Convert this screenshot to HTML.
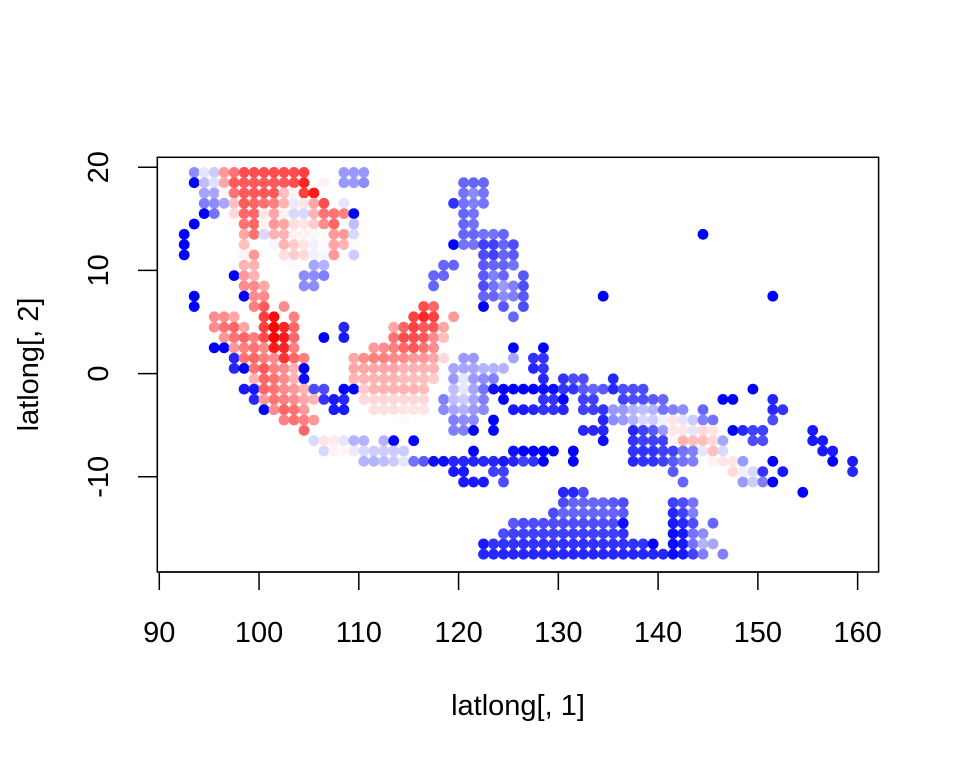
<!DOCTYPE html>
<html><head><meta charset="utf-8"><style>
html,body{margin:0;padding:0;background:#fff;}
svg{display:block;font-family:"Liberation Sans",Arial,sans-serif;}
</style></head><body>
<svg id="chart" width="960" height="768" viewBox="0 0 960 768" xmlns="http://www.w3.org/2000/svg">
<rect x="0" y="0" width="960" height="768" fill="#fff"/>
<g id="points"></g>
<rect x="157.3" y="157.3" width="721.3" height="414.7" fill="none" stroke="#000" stroke-width="1.5"/>
<g id="axes"></g>
<text x="518" y="715" font-size="29" text-anchor="middle">latlong[, 1]</text>
<text transform="translate(38,364.5) rotate(-90)" font-size="29" text-anchor="middle">latlong[, 2]</text>
</svg>
<script>
// Data: each segment = [latitude, starting longitude, values for consecutive 1-degree cells]
const xTicks = [90, 100, 110, 120, 130, 140, 150, 160];
const yTicks = [-10, 0, 10, 20];
const segments = [
[19.5,93.5,[-0.45,-0.1,-0.2,0.4,0.55,0.7,0.7,0.7,0.7,0.7,0.7,0.75]],[19.5,108.5,[-0.4,-0.4,-0.4]],
[18.5,93.5,[-1,-0.25,-0.12,0.35,0.65,0.65,0.65,0.65,0.65,0.65,0.7,0.85]],[18.5,106.5,[0.05]],[18.5,108.5,[-0.4,-0.4,-0.45]],[18.5,120.5,[-0.6,-0.6,-0.6]],
[17.5,94.5,[-0.35,-0.35,0.03,0.55,0.65,0.65,0.65,0.65,0.25,0.05,0.75,0.9]],[17.5,120.5,[-0.55,-0.45,-0.55]],
[16.5,94.5,[-0.5,-0.45,-0.35,0.25,0.65,0.6,0.55,0.5,0.3,-0.08,0.1,0.35,0.7]],[16.5,108.5,[-0.1]],[16.5,119.5,[-0.8,-0.55,-0.5,-0.55]],
[15.5,94.5,[-1,-0.55]],[15.5,97.5,[0.15,0.6,0.6,0.1,0.35,0.05,-0.15,-0.15,0.3,0.55,0.55,0.5,-1]],[15.5,120.5,[-0.6,-0.55]],
[14.5,93.5,[-1]],[14.5,97.5,[0.02,0.55,0.6,0.05,0.4,0.35,0.12,0.1,0.2,0.45,0.6]],[14.5,109.5,[-0.25]],[14.5,120.5,[-0.6,-0.55]],
[13.5,92.5,[-1]],[13.5,98.5,[0.35,0.55,-0.15,0.3,0.3,0.05,0.05,0.03,0.02,0.4,0.4,-0.15]],[13.5,120.5,[-0.6,-0.6,-0.55,-0.55,-0.6]],[13.5,144.5,[-1]],
[12.5,92.5,[-1]],[12.5,98.5,[0.25]],[12.5,101.5,[-0.03,0.3,0.2,0.1,-0.05,0.02,0.35,0.3,0.02]],[12.5,119.5,[-1,-0.55,-0.55,-0.75,-0.75,-0.6,-0.7]],
[11.5,92.5,[-1]],[11.5,98.5,[0.05,0.4]],[11.5,102.5,[0.12,0.2,0.15,-0.05,-0.03,0.4]],[11.5,109.5,[-0.2]],[11.5,122.5,[-0.7,-0.75,-0.6,-0.65]],
[10.5,98.5,[0.3,0.3]],[10.5,103.5,[-0.02]],[10.5,105.5,[-0.35,-0.3]],[10.5,118.5,[-0.6,-0.6]],[10.5,122.5,[-0.65,-0.6,-0.6,-0.55]],
[9.5,97.5,[-1,0.4,0.3]],[9.5,104.5,[-0.45,-0.45,-0.5]],[9.5,117.5,[-0.6,-0.6]],[9.5,122.5,[-0.65,-0.5,-0.6]],[9.5,126.5,[-0.65]],
[8.5,98.5,[0.45,0.45,0.35]],[8.5,104.5,[-0.45,-0.45]],[8.5,117.5,[-0.6]],[8.5,122.5,[-0.7,-0.55,-0.4,-0.5,-0.7]],
[7.5,93.5,[-1]],[7.5,98.5,[-1,0.45,0.45]],[7.5,122.5,[-0.6,-0.6,-0.45,-0.5,-0.65]],[7.5,134.5,[-1]],[7.5,151.5,[-1]],
[6.5,93.5,[-1]],[6.5,99.5,[0.5,0.65]],[6.5,102.5,[0.45]],[6.5,116.5,[0.7,0.6]],[6.5,122.5,[-1]],[6.5,124.5,[-0.65]],[6.5,126.5,[-0.7]],
[5.5,95.5,[0.45,0.45,0.35]],[5.5,100.5,[0.75,0.95]],[5.5,103.5,[0.5]],[5.5,115.5,[0.75,0.85,0.75]],[5.5,119.5,[0.4]],[5.5,125.5,[-0.6]],
[4.5,95.5,[0.45,0.55,0.6,0.35]],[4.5,100.5,[0.75,1,0.85,0.6]],[4.5,108.5,[-0.85]],[4.5,113.5,[0.35,0.6,0.75,0.65,0.65,0.35]],
[3.5,96.5,[0.4,0.55,0.6,0.5,0.7,1,0.9,0.6]],[3.5,106.5,[-1]],[3.5,108.5,[-0.9]],[3.5,113.5,[0.55,0.7,0.7,0.65,0.45,0.25]],
[2.5,95.5,[-1,-1,0.4,0.5,0.55,0.45,0.9,0.85,0.5]],[2.5,111.5,[0.4,0.45,0.5,0.6,0.65,0.55,0.45]],[2.5,125.5,[-1]],[2.5,128.5,[-1]],
[1.5,97.5,[-0.85,0.55,0.6,0.5,0.45,0.8,0.6,0.5]],[1.5,109.5,[0.35,0.45,0.5,0.5,0.45,0.45,0.4,0.4,0.35,0.15]],[1.5,120.5,[-0.4,-0.4]],[1.5,125.5,[-0.35]],[1.5,127.5,[-0.8,-0.8]],
[0.5,97.5,[-0.85,-1,0.55,0.65,0.5,0.45,0.3,-1]],[0.5,109.5,[0.35,0.35,0.35,0.35,0.35,0.3,0.3,0.3,0.3]],[0.5,119.5,[-0.35,-0.35,-0.35,-0.3,-0.3,-0.3]],[0.5,127.5,[-0.85,-0.8]],
[-0.5,99.5,[0.3,0.6,0.55,0.45,0.3,-0.95]],[-0.5,109.5,[0.3,0.3,0.3,0.3,0.3,0.25,0.25,0.25,0.2]],[-0.5,119.5,[-0.4,-0.1,-0.4,-0.45,-0.5]],[-0.5,128.5,[-0.85]],[-0.5,130.5,[-0.8,-0.7,-0.7]],[-0.5,135.5,[-0.85]],
[-1.5,98.5,[-0.9,-0.9,0.6,0.55,0.45,0.4,0.3,-0.7,-0.7]],[-1.5,108.5,[-1,-1,0.2,0.3,0.3,0.3,0.3,0.3,0.25]],[-1.5,119.5,[-0.25,-0.1,-0.35,-0.55,-0.95,-1,-1,-1,-1,-0.95,-0.95,-0.8,-0.8,-0.65,-0.6,-0.65,-0.85,-0.7,-0.7,-0.7]],[-1.5,149.5,[-1]],
[-2.5,99.5,[-0.85,0.4,0.55,0.5,0.45,0.35,0.3,-0.8,-0.9,-0.85]],[-2.5,110.5,[0.15,0.15,0.15,0.15,0.15,0.15,0.15]],[-2.5,118.5,[-0.5,-0.25,-0.2,-0.35,-0.5]],[-2.5,124.5,[-1]],[-2.5,128.5,[-0.8,-0.8,-1]],[-2.5,132.5,[-0.75,-0.75]],[-2.5,136.5,[-0.75,-0.7,-0.7,-0.65,-0.6]],[-2.5,146.5,[-1,-1]],[-2.5,151.5,[-0.85]],
[-3.5,100.5,[-1,0.45,0.6,0.55,0.4]],[-3.5,107.5,[-0.9,-0.9]],[-3.5,111.5,[0.12,0.12,0.12,0.1,0.1,0.1]],[-3.5,118.5,[-0.45,-0.35,-0.3,-0.4,-0.45]],[-3.5,125.5,[-0.9,-0.9,-0.85,-0.8,-0.8,-0.85]],[-3.5,132.5,[-0.75,-0.75,-0.8,-0.4,-0.4,-0.3,-0.25,-0.3,-0.55,-0.5,-0.45]],[-3.5,144.5,[-0.6]],[-3.5,151.5,[-0.85,-0.8]],
[-4.5,102.5,[0.5,0.55,0.5,0.4]],[-4.5,114.5,[0.02]],[-4.5,119.5,[-0.5,-0.45,-0.45]],[-4.5,123.5,[-1]],[-4.5,134.5,[-0.85,-0.45,-0.4,-0.3,-0.15,-0.2,-0.05,0.1,-0.1,-0.2,-0.5,-0.55]],[-4.5,151.5,[-0.7]],
[-5.5,104.5,[0.6]],[-5.5,119.5,[-0.5,-0.5,-1]],[-5.5,123.5,[-1]],[-5.5,132.5,[-0.85,-0.85,-0.85]],[-5.5,137.5,[-0.85,-0.75,-0.65,-0.4,0.1,0.1,-0.1,0.15,0.1]],[-5.5,147.5,[-1,-0.85,-0.75,-0.75]],[-5.5,155.5,[-0.9]],
[-6.5,105.5,[-0.15,0.1,0.08,-0.1,-0.3,-0.3]],[-6.5,112.5,[-0.3,-1]],[-6.5,115.5,[-1]],[-6.5,134.5,[-0.95]],[-6.5,137.5,[-0.8,-0.75,-0.75,-0.75,0.03,0.3,0.25,0.25,0.15,-0.35]],[-6.5,149.5,[-0.7,-0.7]],[-6.5,155.5,[-0.9,-0.9]],
[-7.5,106.5,[-0.15,0.05,0.03,-0.08,-0.15,-0.2,-0.2,-0.2,-0.2]],[-7.5,121.5,[-1]],[-7.5,125.5,[-0.95,-1,-1,-1,-1]],[-7.5,131.5,[-1]],[-7.5,137.5,[-0.8,-0.8,-0.8,-0.75,-0.75,-0.55,-0.5,-0.1,0.25,-0.15]],[-7.5,156.5,[-0.9,-0.9]],
[-8.5,110.5,[-0.3,-0.3,-0.25,-0.2,-0.1,-0.55,-0.65,-0.95,-0.95,-0.85,-0.85,-0.85,-0.85,-0.85,-0.9,-0.85,-0.75,-0.8,-1]],[-8.5,131.5,[-1]],[-8.5,137.5,[-0.85,-0.8,-0.8,-0.75,-0.65,-0.55,-0.5]],[-8.5,145.5,[0.05,0.1,0.1,-0.4]],[-8.5,151.5,[-1]],[-8.5,157.5,[-1]],[-8.5,159.5,[-0.9]],
[-9.5,119.5,[-0.9,-0.9]],[-9.5,123.5,[-0.75,-0.75]],[-9.5,141.5,[-0.65]],[-9.5,147.5,[0.15,-0.05,-0.15,-0.8]],[-9.5,152.5,[-0.9]],[-9.5,159.5,[-0.85]],
[-10.5,120.5,[-0.9,-0.9,-0.9]],[-10.5,124.5,[-0.7]],[-10.5,142.5,[-0.6]],[-10.5,148.5,[-0.4,-0.2,-0.5,-1]],
[-11.5,130.5,[-0.85,-0.85,-0.7]],[-11.5,154.5,[-1]],
[-12.5,130.5,[-0.7,-0.6,-0.6,-0.6,-0.6,-0.65,-0.7]],[-12.5,141.5,[-0.75,-0.7,-0.55]],
[-13.5,129.5,[-0.7,-0.6,-0.6,-0.6,-0.6,-0.6,-0.6,-0.65]],[-13.5,141.5,[-0.85,-0.75,-0.5]],
[-14.5,125.5,[-0.65,-0.7,-0.7,-0.7,-0.7,-0.7,-0.7,-0.7,-0.7,-0.7,-0.7,-0.95]],[-14.5,141.5,[-0.9,-0.85,-0.7]],[-14.5,145.5,[-0.6]],
[-15.5,124.5,[-0.7,-0.75,-0.75,-0.75,-0.75,-0.75,-0.75,-0.75,-0.75,-0.75,-0.75,-0.75,-0.8]],[-15.5,141.5,[-0.95,-0.9,-0.55,-0.45]],
[-16.5,122.5,[-0.9,-0.8,-0.8,-0.8,-0.8,-0.8,-0.8,-0.8,-0.8,-0.8,-0.8,-0.8,-0.8,-0.8,-0.8,-0.8,-0.8,-1]],[-16.5,141.5,[-0.95,-0.9,-0.55,-0.3,-0.35]],
[-17.5,122.5,[-0.85,-0.85,-0.85,-0.85,-0.85,-0.85,-0.85,-0.85,-0.85,-0.85,-0.85,-0.85,-0.85,-0.85,-0.85,-0.85,-0.85,-0.85,-0.85,-0.95,-0.9,-0.75,-0.5]],[-17.5,146.5,[-0.5]]
];

const NS = "http://www.w3.org/2000/svg";
function xScale(lon){ return 159.3 + (lon - 90) * 9.976; }
function yScale(lat){ return 167.2 + (20 - lat) * 10.32; }
function colorOf(v){
  v = Math.max(-1, Math.min(1, v));
  if (v < 0){ const c = Math.round(255 * (1 + v)); return "rgb(" + c + "," + c + ",255)"; }
  const c = Math.round(255 * (1 - v)); return "rgb(255," + c + "," + c + ")";
}
const gp = document.getElementById("points");
segments.forEach(function(seg){
  const lat = seg[0], lon0 = seg[1], vals = seg[2];
  vals.forEach(function(v, i){
    const c = document.createElementNS(NS, "circle");
    c.setAttribute("cx", xScale(lon0 + i).toFixed(1));
    c.setAttribute("cy", yScale(lat).toFixed(1));
    c.setAttribute("r", "5.4");
    c.setAttribute("fill", colorOf(v));
    
    
    gp.appendChild(c);
  });
});
const ga = document.getElementById("axes");
function line(x1,y1,x2,y2){
  const l = document.createElementNS(NS, "line");
  l.setAttribute("x1",x1); l.setAttribute("y1",y1); l.setAttribute("x2",x2); l.setAttribute("y2",y2);
  l.setAttribute("stroke","#000"); l.setAttribute("stroke-width","1.5");
  return l;
}
const xl = line(xScale(xTicks[0]),572,xScale(xTicks[xTicks.length-1]),572);


ga.appendChild(xl);
xTicks.forEach(function(t){
  const x = xScale(t);
  const tk = line(x,572,x,590);
  
  
  ga.appendChild(tk);
  const tx = document.createElementNS(NS, "text");
  tx.setAttribute("x", x); tx.setAttribute("y", 642);
  tx.setAttribute("font-size","29"); tx.setAttribute("text-anchor","middle");
  tx.textContent = String(t);
  
  
  ga.appendChild(tx);
});
const yl = line(157.3,yScale(yTicks[0]),157.3,yScale(yTicks[yTicks.length-1]));


ga.appendChild(yl);
yTicks.forEach(function(t){
  const y = yScale(t);
  const tk = line(138,y,157.3,y);
  
  
  ga.appendChild(tk);
  const tx = document.createElementNS(NS, "text");
  tx.setAttribute("transform", "translate(108," + y + ") rotate(-90)");
  tx.setAttribute("font-size","29"); tx.setAttribute("text-anchor","middle");
  tx.textContent = String(t);
  
  
  ga.appendChild(tx);
});
</script>
</body></html>
